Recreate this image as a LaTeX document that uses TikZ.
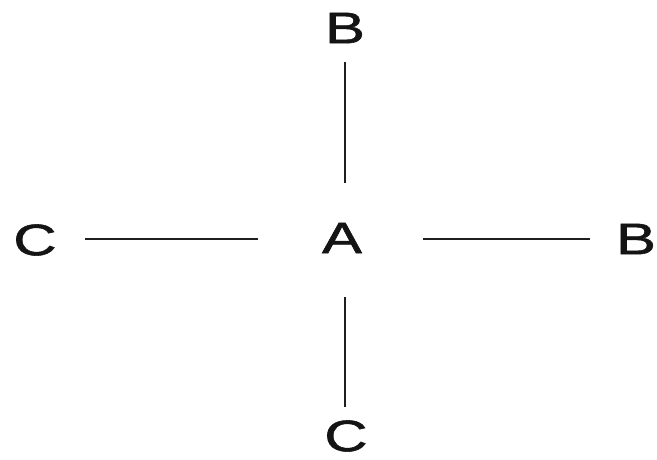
\documentclass[tikz,border=0pt]{standalone}
\usepackage{fontspec}
\setmainfont{Liberation Sans}
\newfontfamily\lblfont[FakeBold=1.2]{Liberation Sans}
\newcommand{\wide}[1]{\scalebox{1.36}[1]{#1}}
\begin{document}
\begin{tikzpicture}[x=1pt,y=-1pt,
  lbl/.style={font=\lblfont\fontsize{44}{44}\selectfont, inner sep=0pt, text=black!92},
  conn/.style={line width=1.7pt, draw=black!88}]
\useasboundingbox (0,0) rectangle (657,460);
\node[lbl] (A) at (342,238) {\wide{A}};
\node[lbl] (Bt) at (345,28) {\wide{B}};
\node[lbl] (Br) at (636,239) {\wide{B}};
\node[lbl] (Cl) at (35,240) {\wide{C}};
\node[lbl] (Cb) at (346,436) {\wide{C}};
\draw[conn, shorten <=55pt, shorten >=34pt] (A.center -| Bt.center) -- (Bt.center);
\draw[conn, shorten <=59pt, shorten >=29pt] (A.center -| Bt.center) -- (Cb.center -| Bt.center);
\draw[conn, shorten <=84pt, shorten >=50pt] ([yshift=-1pt]A.center) -- ([yshift=-1pt]A.center -| Cl.center);
\draw[conn, shorten <=81pt, shorten >=46pt] ([yshift=-1pt]A.center) -- ([yshift=-1pt]A.center -| Br.center);
\end{tikzpicture}
\end{document}
